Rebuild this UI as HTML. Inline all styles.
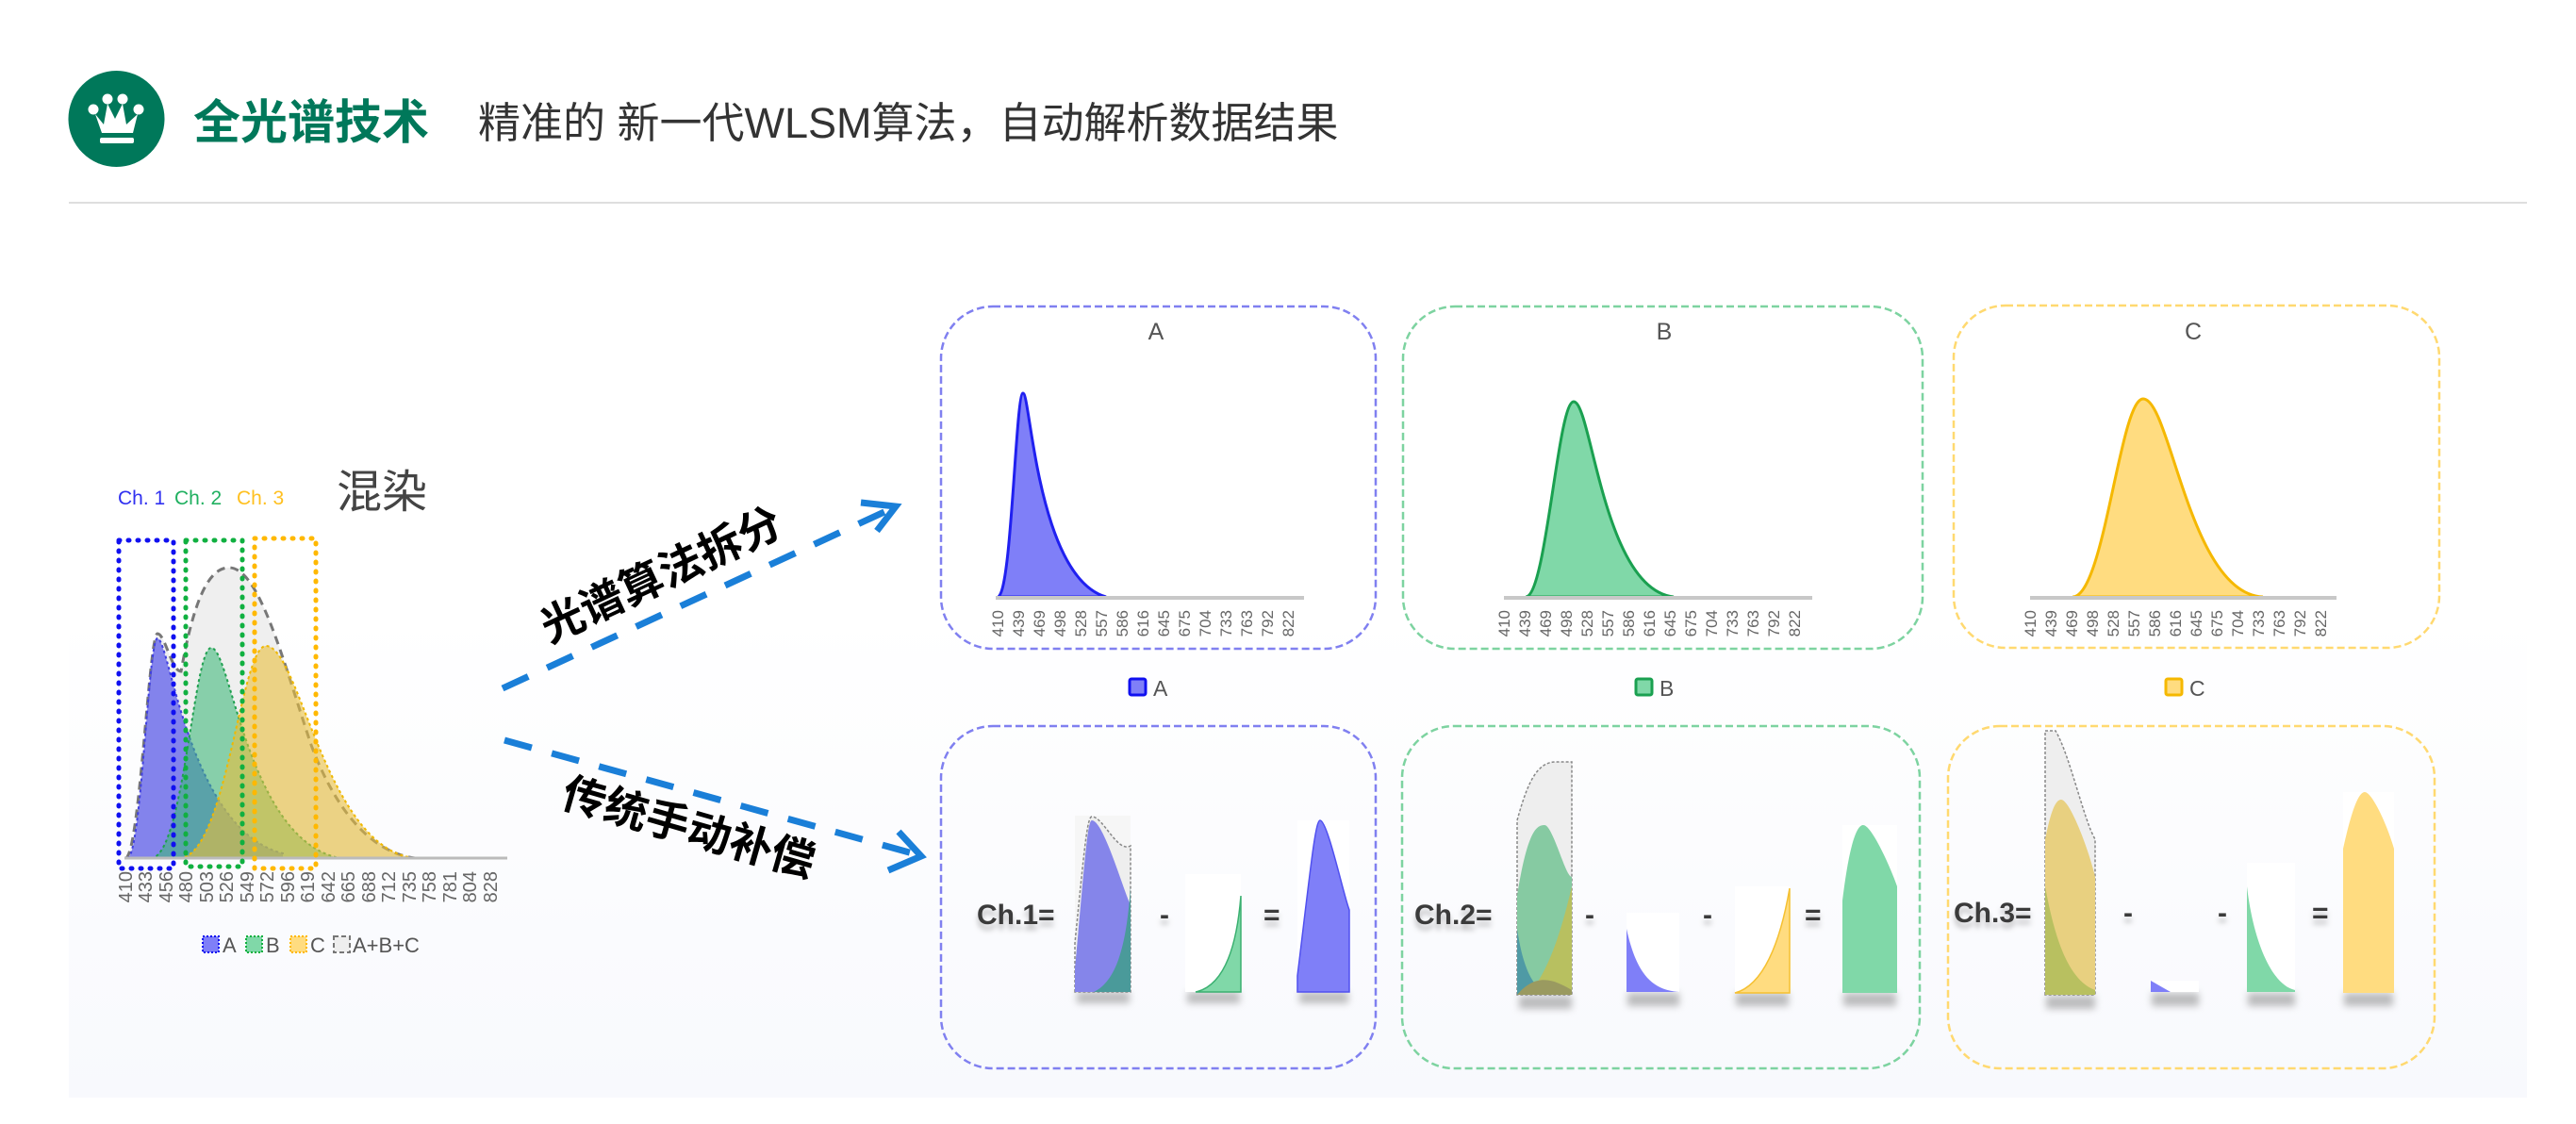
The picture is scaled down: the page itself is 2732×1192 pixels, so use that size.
<!DOCTYPE html>
<html><head><meta charset="utf-8"><style>
html,body{margin:0;padding:0;background:#fff;}
svg{display:block;}
text{font-family:"Liberation Sans","Noto Sans CJK SC",sans-serif;}
</style></head><body>
<svg width="2732" height="1192" viewBox="0 0 2732 1192" xmlns="http://www.w3.org/2000/svg">
<defs>
<linearGradient id="bg" x1="0" y1="0" x2="0" y2="1">
<stop offset="0" stop-color="#ffffff"/><stop offset="0.45" stop-color="#ffffff"/><stop offset="1" stop-color="#f8f9fd"/>
</linearGradient>
<filter id="sh" x="-50%" y="-50%" width="200%" height="200%"><feGaussianBlur stdDeviation="4"/></filter>
<filter id="ts" x="-20%" y="-20%" width="140%" height="160%"><feDropShadow dx="0" dy="6" stdDeviation="3" flood-color="#000" flood-opacity="0.25"/></filter>
</defs>
<rect x="73" y="230" width="2607" height="934" fill="url(#bg)"/>
<!-- header -->
<circle cx="123.5" cy="126" r="51" fill="#00785a"/>
<g fill="#fff">
<circle cx="99" cy="116" r="5.5"/><circle cx="114" cy="105" r="5.5"/><circle cx="130" cy="105" r="5.5"/><circle cx="147" cy="116" r="5.5"/>
<path d="M101,121 L108,141 L141,141 L146,121 L134,132 L130,110 L122,126 L114,110 L110,132 Z"/>
<rect x="106" y="146" width="36" height="6" rx="2"/>
</g>
<text x="205" y="147" font-size="50" font-weight="bold" fill="#00785a">全光谱技术</text>
<text x="507" y="146" font-size="45" fill="#333">精准的 新一代WLSM算法，自动解析数据结果</text>
<rect x="73" y="214" width="2607" height="2" fill="#dedede"/>

<!-- left mixed chart -->
<text x="125" y="535" font-size="21" fill="#3030f0">Ch. 1</text>
<text x="185" y="535" font-size="21" fill="#20b060">Ch. 2</text>
<text x="251" y="535" font-size="21" fill="#ffc020">Ch. 3</text>
<text x="357" y="538" font-size="48" fill="#444">混染</text>
<path d="M133,910 C148,910 158,672 167,672 C175,672 182,712 192,712 C205,640 220,602 243,602 C275,602 300,700 330,790 C360,870 400,905 440,910 Z" fill="#efefef" stroke="#777" stroke-width="3" stroke-dasharray="9 6"/>
<path d="M135,910 C150,910 157,677 167,677 C180,677 200,880 300,905 L300,910 Z" fill="rgba(80,80,235,0.68)" stroke="#4040e0" stroke-width="2" stroke-dasharray="3 3"/>
<path d="M160,910 C195,910 205,687 224,687 C245,687 262,890 360,910 Z" fill="rgba(60,185,120,0.58)" stroke="#20a050" stroke-width="2" stroke-dasharray="3 3"/>
<path d="M190,910 C240,910 255,685 282,685 C318,685 345,900 440,910 Z" fill="rgba(232,190,60,0.6)" stroke="#f0b800" stroke-width="2" stroke-dasharray="3 3"/>
<line x1="132" y1="910" x2="538" y2="910" stroke="#bbb" stroke-width="3"/>
<g fill="none" stroke-width="5" stroke-linecap="round" stroke-dasharray="1 9">
<rect x="126" y="573" width="58" height="348" stroke="#1010f0"/>
<rect x="197" y="573" width="60" height="346" stroke="#10b040"/>
<rect x="270" y="571" width="65" height="350" stroke="#ffb800"/>
</g>
<g font-size="20" fill="#666" text-anchor="end">
<text transform="translate(140,924) rotate(-90)">410</text>
<text transform="translate(161,924) rotate(-90)">433</text>
<text transform="translate(183,924) rotate(-90)">456</text>
<text transform="translate(204,924) rotate(-90)">480</text>
<text transform="translate(226,924) rotate(-90)">503</text>
<text transform="translate(247,924) rotate(-90)">526</text>
<text transform="translate(269,924) rotate(-90)">549</text>
<text transform="translate(290,924) rotate(-90)">572</text>
<text transform="translate(312,924) rotate(-90)">596</text>
<text transform="translate(333,924) rotate(-90)">619</text>
<text transform="translate(355,924) rotate(-90)">642</text>
<text transform="translate(376,924) rotate(-90)">665</text>
<text transform="translate(398,924) rotate(-90)">688</text>
<text transform="translate(419,924) rotate(-90)">712</text>
<text transform="translate(441,924) rotate(-90)">735</text>
<text transform="translate(462,924) rotate(-90)">758</text>
<text transform="translate(484,924) rotate(-90)">781</text>
<text transform="translate(505,924) rotate(-90)">804</text>
<text transform="translate(527,924) rotate(-90)">828</text>
</g>
<g>
<rect x="215" y="993" width="17" height="17" fill="#7f7ff8" stroke="#1010f0" stroke-width="2" stroke-dasharray="2 2"/>
<text x="236" y="1010" font-size="22" fill="#555">A</text>
<rect x="261" y="993" width="17" height="17" fill="#80d8a8" stroke="#10b040" stroke-width="2" stroke-dasharray="2 2"/>
<text x="282" y="1010" font-size="22" fill="#555">B</text>
<rect x="308" y="993" width="17" height="17" fill="#ffdc80" stroke="#ffb800" stroke-width="2" stroke-dasharray="2 2"/>
<text x="329" y="1010" font-size="22" fill="#555">C</text>
<rect x="354" y="993" width="17" height="17" fill="#eee" stroke="#777" stroke-width="2" stroke-dasharray="5 3"/>
<text x="374" y="1010" font-size="22" fill="#555">A+B+C</text>
</g>

<!-- arrows -->
<g stroke="#1a7fd8" stroke-width="7" fill="none">
<line x1="533" y1="730" x2="942" y2="541" stroke-dasharray="30 22"/>
<polyline points="913,533 950,537 930,563" stroke-linejoin="miter"/>
<line x1="535" y1="785" x2="968" y2="905" stroke-dasharray="30 22"/>
<polyline points="942,923 977,908 953,882"/>
</g>
<g font-size="46" font-weight="bold" fill="#000" stroke="#fff" stroke-width="2" paint-order="stroke" text-anchor="middle">
<text transform="translate(708,624) rotate(-25)">光谱算法拆分</text>
<text transform="translate(726,893) rotate(16)">传统手动补偿</text>
</g>

<!-- top panels -->
<g fill="none" stroke-width="2.5" stroke-dasharray="8 4">
<rect x="998" y="325" width="461" height="363" rx="55" stroke="#8080f0"/>
<rect x="1488" y="325" width="551" height="363" rx="55" stroke="#7dd3a0"/>
<rect x="2072" y="324" width="515" height="363" rx="55" stroke="#ffd970"/>
<rect x="998" y="770" width="461" height="363" rx="55" stroke="#8080f0"/>
<rect x="1487" y="770" width="549" height="363" rx="55" stroke="#7dd3a0"/>
<rect x="2066" y="770" width="516" height="363" rx="55" stroke="#ffd970"/>
</g>
<g font-size="25" fill="#555" text-anchor="middle">
<text x="1226" y="360">A</text><text x="1765" y="360">B</text><text x="2326" y="360">C</text>
</g>
<path d="M1058,633 C1073,633 1077,417 1085,417 C1093,417 1100,612 1173,633 Z" fill="#7f7ff8" stroke="#2020f0" stroke-width="3"/>
<path d="M1618,633 C1640,633 1652,426 1669,426 C1688,426 1700,625 1775,633 Z" fill="#80d8a8" stroke="#1aa050" stroke-width="3"/>
<path d="M2198,633 C2232,633 2248,423 2273,423 C2302,423 2322,630 2400,633 Z" fill="#ffdc80" stroke="#f5b800" stroke-width="3"/>
<g stroke="#c8c8c8" stroke-width="4">
<line x1="1056" y1="634" x2="1383" y2="634"/><line x1="1595" y1="634" x2="1922" y2="634"/><line x1="2153" y1="634" x2="2478" y2="634"/>
</g>
<g font-size="17" fill="#666" text-anchor="end">
<text transform="translate(1064,647) rotate(-90)">410</text><text transform="translate(1086,647) rotate(-90)">439</text><text transform="translate(1108,647) rotate(-90)">469</text><text transform="translate(1130,647) rotate(-90)">498</text><text transform="translate(1152,647) rotate(-90)">528</text><text transform="translate(1174,647) rotate(-90)">557</text><text transform="translate(1196,647) rotate(-90)">586</text><text transform="translate(1218,647) rotate(-90)">616</text><text transform="translate(1240,647) rotate(-90)">645</text><text transform="translate(1262,647) rotate(-90)">675</text><text transform="translate(1284,647) rotate(-90)">704</text><text transform="translate(1306,647) rotate(-90)">733</text><text transform="translate(1328,647) rotate(-90)">763</text><text transform="translate(1350,647) rotate(-90)">792</text><text transform="translate(1372,647) rotate(-90)">822</text>
<text transform="translate(1601,647) rotate(-90)">410</text><text transform="translate(1623,647) rotate(-90)">439</text><text transform="translate(1645,647) rotate(-90)">469</text><text transform="translate(1667,647) rotate(-90)">498</text><text transform="translate(1689,647) rotate(-90)">528</text><text transform="translate(1711,647) rotate(-90)">557</text><text transform="translate(1733,647) rotate(-90)">586</text><text transform="translate(1755,647) rotate(-90)">616</text><text transform="translate(1777,647) rotate(-90)">645</text><text transform="translate(1799,647) rotate(-90)">675</text><text transform="translate(1821,647) rotate(-90)">704</text><text transform="translate(1843,647) rotate(-90)">733</text><text transform="translate(1865,647) rotate(-90)">763</text><text transform="translate(1887,647) rotate(-90)">792</text><text transform="translate(1909,647) rotate(-90)">822</text>
<text transform="translate(2159,647) rotate(-90)">410</text><text transform="translate(2181,647) rotate(-90)">439</text><text transform="translate(2203,647) rotate(-90)">469</text><text transform="translate(2225,647) rotate(-90)">498</text><text transform="translate(2247,647) rotate(-90)">528</text><text transform="translate(2269,647) rotate(-90)">557</text><text transform="translate(2291,647) rotate(-90)">586</text><text transform="translate(2313,647) rotate(-90)">616</text><text transform="translate(2335,647) rotate(-90)">645</text><text transform="translate(2357,647) rotate(-90)">675</text><text transform="translate(2379,647) rotate(-90)">704</text><text transform="translate(2401,647) rotate(-90)">733</text><text transform="translate(2423,647) rotate(-90)">763</text><text transform="translate(2445,647) rotate(-90)">792</text><text transform="translate(2467,647) rotate(-90)">822</text>
</g>
<rect x="1198" y="720" width="17" height="17" rx="2" fill="#7f7ff8" stroke="#1010f0" stroke-width="3"/>
<text x="1223" y="738" font-size="23" fill="#555">A</text>
<rect x="1735" y="720" width="17" height="17" rx="2" fill="#80d8a8" stroke="#1aa050" stroke-width="3"/>
<text x="1760" y="738" font-size="23" fill="#555">B</text>
<rect x="2297" y="720" width="17" height="17" rx="2" fill="#ffdc80" stroke="#f5b800" stroke-width="3"/>
<text x="2322" y="738" font-size="23" fill="#555">C</text>

<!-- bottom shadows -->
<g fill="#888" opacity="0.55" filter="url(#sh)">
<rect x="1142" y="1052" width="56" height="12"/><rect x="1259" y="1052" width="56" height="12"/><rect x="1378" y="1052" width="52" height="12"/>
<rect x="1611" y="1056" width="56" height="14"/><rect x="1726" y="1053" width="55" height="14"/><rect x="1841" y="1053" width="56" height="14"/><rect x="1955" y="1053" width="56" height="14"/>
<rect x="2170" y="1056" width="52" height="14"/><rect x="2282" y="1053" width="50" height="14"/><rect x="2384" y="1053" width="50" height="14"/><rect x="2486" y="1053" width="52" height="14"/>
</g>
<!-- panel A minis -->
<rect x="1140" y="865" width="59" height="187" fill="#f6f6f6"/>
<path d="M1140,1052 L1140,1000 C1150,900 1153,866 1158,866 C1170,866 1185,905 1199,897 L1199,1052 Z" fill="#eee" stroke="#888" stroke-width="1.5" stroke-dasharray="3 2"/>
<path d="M1140,1052 L1140,1027 C1150,920 1153,870 1158,870 C1170,870 1190,940 1199,960 L1199,1052 Z" fill="#8585ea"/>
<path d="M1160,1052 C1185,1040 1195,1000 1199,940 L1199,1052 Z" fill="#4a9a9a"/>
<rect x="1257" y="927" width="59" height="125" fill="#fff"/>
<path d="M1268,1052 C1300,1045 1312,1000 1316,950 L1316,1052 Z" fill="#80d8a8" stroke="#3ab070" stroke-width="1.5"/>
<rect x="1376" y="870" width="55" height="182" fill="#fff"/>
<path d="M1376,1052 L1376,1035 C1390,920 1395,870 1400,870 C1408,870 1425,950 1431,965 L1431,1052 Z" fill="#7f7ff8" stroke="#5050f0" stroke-width="1.5"/>
<!-- panel B minis -->
<path d="M1609,1055 L1609,870 C1620,830 1630,808 1650,808 L1667,808 L1667,1055 Z" fill="#eee" stroke="#888" stroke-width="1.5" stroke-dasharray="3 2"/>
<path d="M1609,1055 L1609,950 C1620,880 1630,875 1638,875 C1647,875 1660,930 1667,930 L1667,1055 Z" fill="#86caa2"/>
<path d="M1620,1055 C1645,1030 1660,970 1667,940 L1667,1055 Z" fill="#b8c060"/>
<path d="M1609,985 C1615,1025 1625,1050 1645,1055 L1609,1055 Z" fill="#4f9aa5"/>
<path d="M1609,1055 C1630,1030 1650,1040 1667,1050 L1667,1055 Z" fill="#9a9a60"/>
<rect x="1725" y="968" width="56" height="84" fill="#fff"/>
<path d="M1725,1052 L1725,985 C1735,1030 1750,1050 1781,1052 Z" fill="#7f7ff8"/>
<rect x="1840" y="940" width="58" height="113" fill="#fff"/>
<path d="M1840,1053 C1870,1045 1888,1000 1898,942 L1898,1053 Z" fill="#ffdc80" stroke="#f5c030" stroke-width="1.5"/>
<rect x="1954" y="875" width="58" height="178" fill="#fff"/>
<path d="M1954,1053 L1954,955 C1962,890 1970,875 1976,875 C1985,875 2005,920 2012,940 L2012,1053 Z" fill="#80d8a8"/>
<!-- panel C minis -->
<path d="M2169,1055 L2169,775 L2180,775 C2195,800 2210,870 2222,890 L2222,1055 Z" fill="#eee" stroke="#888" stroke-width="1.5" stroke-dasharray="3 2"/>
<path d="M2169,1055 L2169,890 C2175,860 2180,848 2186,848 C2195,848 2215,900 2222,930 L2222,1055 Z" fill="#e8d080"/>
<path d="M2169,940 C2180,1000 2195,1040 2222,1050 L2222,1055 L2169,1055 Z" fill="#b8c060"/>
<rect x="2281" y="1040" width="51" height="12" fill="#fff"/>
<path d="M2281,1040 L2281,1052 L2302,1052 Z" fill="#7f7ff8"/>
<rect x="2383" y="915" width="51" height="137" fill="#fff"/>
<path d="M2383,940 C2390,1000 2410,1045 2434,1050 L2434,1052 L2383,1052 Z" fill="#80d8a8"/>
<rect x="2485" y="840" width="54" height="213" fill="#fff"/>
<path d="M2485,1053 L2485,900 C2495,855 2502,840 2508,840 C2515,840 2530,870 2539,900 L2539,1053 Z" fill="#ffdc80"/>

<!-- equation texts -->
<g font-size="30" font-weight="bold" fill="#3a3a3a" filter="url(#ts)">
<text x="1036" y="980">Ch.1=</text>
<text x="1500" y="980">Ch.2=</text>
<text x="2072" y="978">Ch.3=</text>
<text x="1230" y="980">-</text><text x="1340" y="980">=</text>
<text x="1681" y="980">-</text><text x="1806" y="980">-</text><text x="1914" y="980">=</text>
<text x="2252" y="978">-</text><text x="2352" y="978">-</text><text x="2452" y="978">=</text>
</g>
</svg>
</body></html>
